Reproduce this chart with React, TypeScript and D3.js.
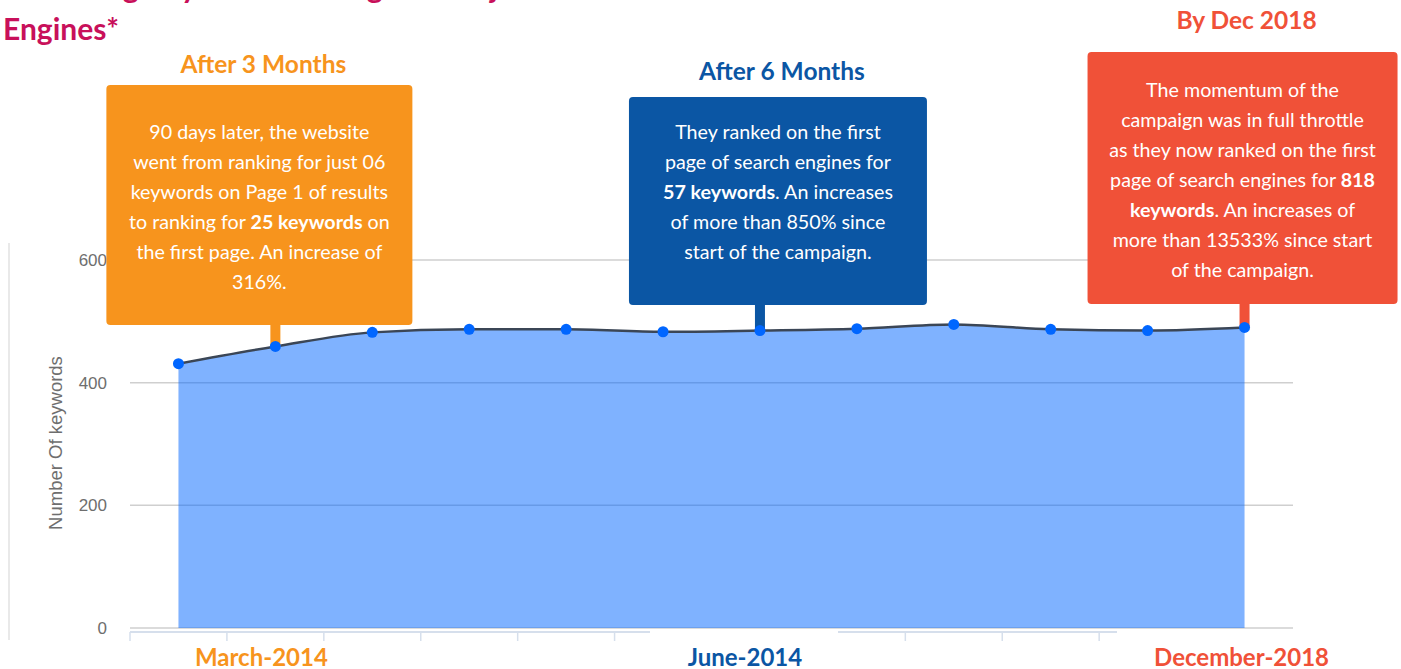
import * as d3 from "d3";

// keyword counts, one per period
const periods = ["1", "2", "3", "4", "5", "6", "7", "8", "9", "10", "11", "12"];
const keywords = [431, 459, 482, 487, 487, 483, 485, 488, 495, 487, 485, 490];
const yTicks = [0, 200, 400, 600];

const xLabels = [
  { text: "March-2014", period: "2", dx: -14, color: "#f7941d" },
  { text: "June-2014", period: "7", dx: -15, color: "#0b56a4" },
  { text: "December-2018", period: "12", dx: -3, color: "#f05138" },
];

type Seg = [string, boolean];

const notes: {
  title: string;
  period: string;
  color: string;
  dx: number;
  top: number;
  height: number;
  width: number;
  titleY: number;
  firstLine: number;
  lines: Seg[][];
}[] = [
  {
    title: "After 3 Months",
    period: "2",
    color: "#f7941d",
    dx: -16,
    top: 85,
    height: 240,
    width: 306,
    titleY: 64,
    firstLine: 132,
    lines: [
      [["90 days later, the website", false]],
      [["went from ranking for just 06", false]],
      [["keywords on Page 1 of results", false]],
      [["to ranking for ", false], ["25 keywords", true], [" on", false]],
      [["the first page. An increase of", false]],
      [["316%.", false]],
    ],
  },
  {
    title: "After 6 Months",
    period: "7",
    color: "#0b56a4",
    dx: 18,
    top: 97,
    height: 208,
    width: 298,
    titleY: 71,
    firstLine: 132,
    lines: [
      [["They ranked on the first", false]],
      [["page of search engines for", false]],
      [["57 keywords", true], [". An increases", false]],
      [["of more than 850% since", false]],
      [["start of the campaign.", false]],
    ],
  },
  {
    title: "By Dec 2018",
    period: "12",
    color: "#f05138",
    dx: -2,
    top: 52,
    height: 252,
    width: 310,
    titleY: 20,
    firstLine: 90,
    lines: [
      [["The momentum of the", false]],
      [["campaign was in full throttle", false]],
      [["as they now ranked on the first", false]],
      [["page of search engines for ", false], ["818", true]],
      [["keywords", true], [". An increases of", false]],
      [["more than 13533% since start", false]],
      [["of the campaign.", false]],
    ],
  },
];

const W = 1401;
const H = 669;
const plot = { left: 130, right: 1293, top: 260, bottom: 628 };
const axisEnd = 1117;
const font = "Lato, 'Open Sans', sans-serif";
const axisFont = "'Liberation Sans', Arial, sans-serif";

const App = () => {
  const x = d3.scaleBand().domain(periods).range([plot.left, plot.right]);
  const cx = (p: string) => (x(p) ?? 0) + x.bandwidth() / 2;
  const y = d3.scaleLinear().domain([0, 600]).range([plot.bottom, plot.top]);

  const data = periods.map((p, i) => ({ p, v: keywords[i] }));

  const area = d3
    .area<{ p: string; v: number }>()
    .x(d => cx(d.p))
    .y0(y(0))
    .y1(d => y(d.v))
    .curve(d3.curveMonotoneX);

  const line = d3
    .line<{ p: string; v: number }>()
    .x(d => cx(d.p))
    .y(d => y(d.v))
    .curve(d3.curveMonotoneX);

  // tick marks at band edges, only where the axis line runs
  const edges = periods.map(p => x(p) ?? 0).filter(e => e <= axisEnd);

  return (
    <svg
      width={W}
      height={H}
      style={{ position: "absolute", left: 0, top: 0, background: "#fff" }}
    >
      {/* partly cropped heading */}
      <text x={3} y={-2} fill="#c8105a" fontFamily={font} fontWeight={700} fontSize={30}>
        Increasing Keyword Coverage on Major Search
      </text>
      <text x={3} y={40} fill="#c8105a" fontFamily={font} fontWeight={700} fontSize={30}>
        Engines*
      </text>

      {/* chart frame line on the left */}
      <line x1={9} x2={9} y1={243} y2={640} stroke="#e2e2e2" strokeWidth={1.5} />

      {/* gridlines */}
      {yTicks.map(t => (
        <line
          key={t}
          x1={plot.left}
          x2={plot.right}
          y1={y(t)}
          y2={y(t)}
          stroke="#cfcfcf"
          strokeWidth={1.5}
        />
      ))}

      <path d={area(data) ?? ""} fill="#0066ff" fillOpacity={0.5} />
      <path d={line(data) ?? ""} fill="none" stroke="#3b4656" strokeWidth={2.5} />

      {/* x axis */}
      <line x1={plot.left} x2={axisEnd} y1={632} y2={632} stroke="#d6dfec" strokeWidth={2} />
      {edges.map((e, i) => (
        <line key={i} x1={e} x2={e} y1={632} y2={641} stroke="#d6dfec" strokeWidth={1.5} />
      ))}
      <rect x={650} y={629} width={188} height={14} fill="#fff" />

      {/* y labels */}
      {yTicks.map(t => (
        <text
          key={t}
          x={107}
          y={y(t)}
          dy="0.35em"
          textAnchor="end"
          fill="#6e6e6e"
          fontFamily={axisFont}
          fontSize={17}
        >
          {t}
        </text>
      ))}
      <text
        transform={`translate(62, 443) rotate(-90)`}
        textAnchor="middle"
        fill="#6e6e6e"
        fontFamily={axisFont}
        fontSize={18.5}
      >
        Number Of keywords
      </text>

      {/* annotation boxes */}
      {notes.map(n => {
        const px = cx(n.period);
        const pv = keywords[periods.indexOf(n.period)];
        const center = px + n.dx;
        return (
          <g key={n.title}>
            <rect
              x={px - 5}
              y={n.top + n.height - 2}
              width={10}
              height={y(pv) - (n.top + n.height) + 2}
              fill={n.color}
            />
            <rect
              x={center - n.width / 2}
              y={n.top}
              width={n.width}
              height={n.height}
              rx={4}
              fill={n.color}
            />
            <text
              x={center + 4}
              y={n.titleY}
              dy="0.35em"
              textAnchor="middle"
              fill={n.color}
              fontFamily={font}
              fontWeight={700}
              fontSize={24.5}
            >
              {n.title}
            </text>
            {n.lines.map((segs, i) => (
              <text
                key={i}
                x={center}
                y={n.firstLine + i * 30}
                dy="0.35em"
                textAnchor="middle"
                fill="#fff"
                fontFamily={font}
                fontSize={19.7}
              >
                {segs.map(([s, b], j) => (
                  <tspan key={j} fontWeight={b ? 700 : 400}>
                    {s}
                  </tspan>
                ))}
              </text>
            ))}
          </g>
        );
      })}

      {/* data points */}
      {data.map(d => (
        <circle key={d.p} cx={cx(d.p)} cy={y(d.v)} r={5.5} fill="#0066ff" />
      ))}

      {/* x labels */}
      {xLabels.map(l => (
        <text
          key={l.text}
          x={cx(l.period) + l.dx}
          y={658}
          dy="0.35em"
          textAnchor="middle"
          fill={l.color}
          fontFamily={font}
          fontWeight={700}
          fontSize={24}
        >
          {l.text}
        </text>
      ))}
    </svg>
  );
};

export default App;
